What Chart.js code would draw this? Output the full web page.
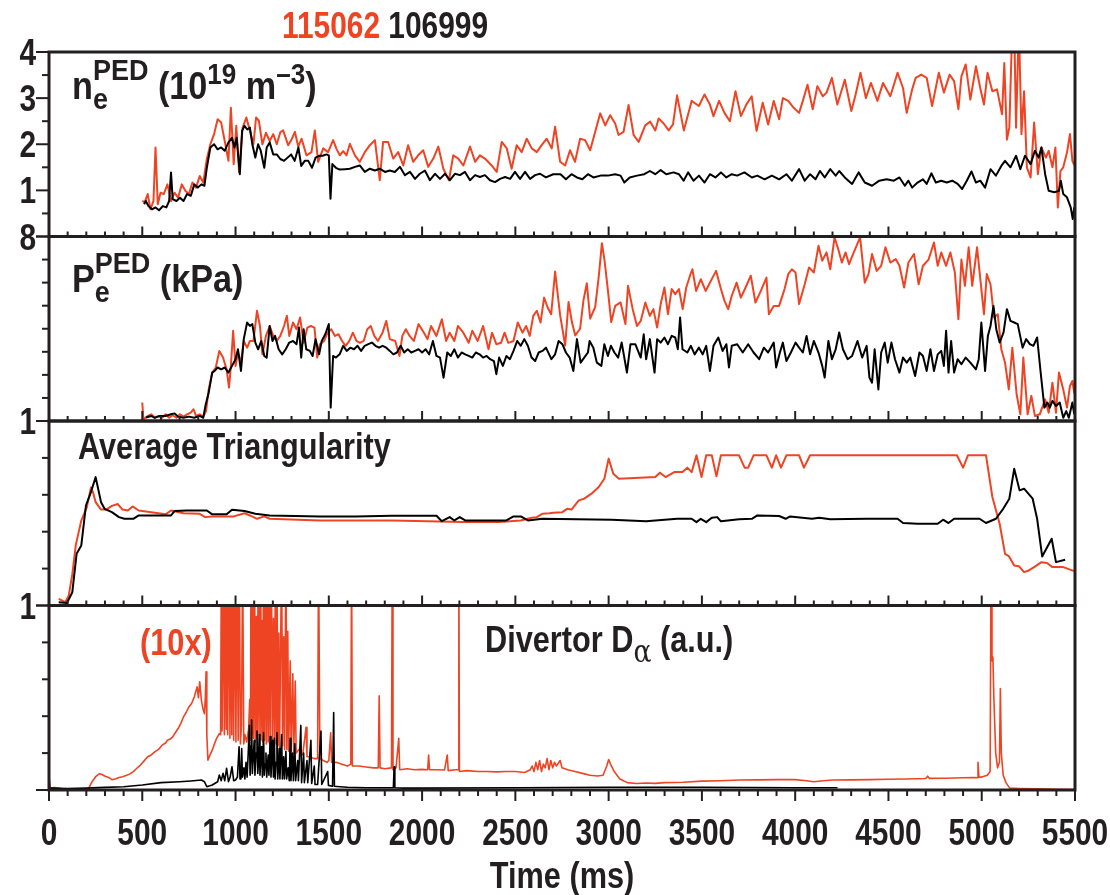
<!DOCTYPE html>
<html>
<head>
<meta charset="utf-8">
<title>Pedestal 115062 / 106999</title>
<script src="https://cdn.jsdelivr.net/npm/chart.js@4.4.1/dist/chart.umd.min.js"></script>
<style>
    html, body { margin: 0; padding: 0; background: #fff; }
    #marco { width: 1110px; height: 895px; }
</style>
</head>
<body>
<div id="marco"><canvas id="grafico" width="1110" height="895"></canvas></div>
<script>
/* ========================================
   Four stacked panels, shared time axis
   ======================================== */

// ---- n_e^PED (10^19 m^-3) ----
const neRedTime = [
    500, 513, 529, 544, 560, 571, 583, 598, 615, 635,
    654, 673, 692, 712, 731, 750, 769, 788, 808, 827,
    846, 865, 885, 904, 923, 942, 962, 975, 990, 1004,
    1019, 1038, 1058, 1077, 1096, 1110, 1125, 1144, 1163, 1183,
    1202, 1221, 1240, 1255, 1282, 1300, 1318, 1336, 1354, 1380,
    1407, 1425, 1443, 1470, 1496, 1523, 1541, 1559, 1577, 1595,
    1613, 1640, 1666, 1693, 1720, 1747, 1773, 1791, 1818, 1845,
    1872, 1899, 1925, 1952, 1979, 2006, 2033, 2060, 2087, 2114,
    2144, 2167, 2194, 2221, 2257, 2284, 2310, 2337, 2373, 2400,
    2427, 2454, 2480, 2507, 2534, 2561, 2588, 2615, 2641, 2668,
    2695, 2713, 2740, 2767, 2793, 2820, 2847, 2874, 2901, 2928,
    2955, 2982, 3008, 3035, 3053, 3080, 3107, 3134, 3161, 3196,
    3223, 3250, 3268, 3295, 3322, 3345, 3367, 3403, 3445, 3484,
    3514, 3543, 3562, 3592, 3621, 3650, 3680, 3709, 3738, 3767,
    3793, 3826, 3855, 3885, 3914, 3934, 3963, 3992, 4021, 4041,
    4066, 4094, 4119, 4148, 4168, 4197, 4226, 4266, 4301, 4324,
    4350, 4379, 4406, 4441, 4471, 4510, 4549, 4578, 4598, 4627,
    4646, 4676, 4705, 4734, 4770, 4797, 4828, 4852, 4875, 4891,
    4914, 4939, 4969, 4992, 5012, 5031, 5057, 5082, 5109, 5121,
    5135, 5148, 5164, 5174, 5184, 5199, 5213, 5227, 5242, 5262,
    5281, 5301, 5320, 5344, 5359, 5379, 5395, 5408, 5422, 5437,
    5457, 5473, 5486, 5496
];
const neRedValue = [
    0.77, 0.74, 0.92, 0.59, 0.77, 1.93, 0.70, 0.95, 0.92, 1.13,
    0.77, 0.95, 0.84, 1.13, 0.99, 0.92, 1.17, 1.06, 1.31, 1.17,
    1.68, 2.00, 2.22, 2.54, 2.47, 2.07, 1.64, 2.79, 1.57, 2.40,
    1.39, 2.36, 2.58, 2.29, 2.00, 2.58, 2.51, 2.00, 2.25, 2.07,
    2.22, 2.00, 2.26, 2.30, 1.98, 2.10, 2.27, 1.95, 2.12, 1.76,
    1.83, 2.30, 1.62, 1.91, 1.83, 2.09, 1.90, 1.76, 1.85, 1.76,
    2.01, 1.76, 1.62, 1.83, 1.98, 2.09, 1.22, 2.05, 2.05, 1.69,
    1.83, 1.54, 1.98, 1.62, 1.76, 1.87, 1.51, 1.69, 1.95, 1.47,
    1.22, 1.76, 1.69, 1.54, 1.95, 1.62, 1.76, 1.69, 1.54, 1.40,
    2.05, 1.91, 1.47, 1.98, 1.83, 2.12, 1.91, 1.83, 1.98, 2.12,
    1.91, 2.38, 1.62, 1.54, 1.87, 1.62, 2.12, 2.09, 1.87, 2.27,
    2.67, 2.41, 2.63, 2.45, 2.20, 2.27, 2.85, 2.20, 2.05, 2.41,
    2.49, 2.30, 2.56, 2.45, 2.30, 2.43, 3.06, 2.30, 2.94, 2.83,
    3.08, 2.86, 2.61, 2.94, 2.68, 2.50, 3.15, 2.61, 2.86, 3.04,
    2.29, 2.90, 2.43, 2.94, 2.54, 3.00, 2.94, 2.79, 2.68, 2.94,
    3.29, 2.76, 3.26, 3.04, 3.12, 3.44, 2.86, 3.40, 2.72, 3.08,
    3.55, 3.00, 3.33, 2.94, 3.33, 3.04, 3.55, 3.22, 2.68, 3.19,
    3.44, 3.51, 3.44, 2.83, 3.55, 3.12, 3.51, 3.37, 2.76, 3.47,
    3.73, 2.97, 3.69, 3.22, 2.86, 3.55, 3.15, 3.19, 2.65, 3.76,
    2.10, 2.36, 4.60, 4.60, 2.36, 4.60, 2.22, 3.15, 1.50, 1.28,
    2.47, 1.35, 1.93, 1.71, 1.86, 1.50, 1.93, 0.63, 1.42, 1.50,
    1.82, 2.22, 1.64, 1.55
];
const neBlackTime = [
    510, 519, 533, 552, 571, 590, 610, 629, 644, 654,
    663, 683, 702, 721, 740, 760, 779, 798, 817, 833,
    846, 865, 885, 904, 923, 942, 962, 981, 994, 1006,
    1023, 1035, 1048, 1063, 1077, 1090, 1106, 1121, 1135, 1154,
    1167, 1183, 1202, 1221, 1240, 1260, 1279, 1298, 1317, 1337,
    1352, 1371, 1390, 1410, 1429, 1448, 1467, 1487, 1500, 1509,
    1519, 1538, 1558, 1587, 1613, 1640, 1666, 1693, 1720, 1747,
    1773, 1801, 1827, 1854, 1881, 1908, 1935, 1962, 1988, 2015,
    2042, 2069, 2096, 2123, 2149, 2176, 2203, 2230, 2257, 2284,
    2310, 2337, 2364, 2391, 2418, 2445, 2472, 2498, 2525, 2552,
    2579, 2606, 2632, 2664, 2703, 2742, 2771, 2801, 2830, 2859,
    2889, 2918, 2957, 2996, 3035, 3064, 3084, 3113, 3152, 3191,
    3221, 3250, 3279, 3309, 3348, 3377, 3402, 3426, 3455, 3484,
    3514, 3543, 3572, 3602, 3631, 3660, 3689, 3728, 3768, 3797,
    3836, 3875, 3914, 3953, 3982, 4021, 4051, 4080, 4109, 4133,
    4158, 4188, 4217, 4236, 4266, 4305, 4340, 4373, 4412, 4451,
    4490, 4529, 4559, 4588, 4607, 4627, 4656, 4685, 4705, 4730,
    4754, 4783, 4812, 4842, 4871, 4895, 4920, 4945, 4969, 4992,
    5018, 5047, 5076, 5105, 5125, 5154, 5184, 5207, 5232, 5262,
    5285, 5305, 5320, 5340, 5359, 5389, 5414, 5424, 5437, 5457,
    5477, 5488, 5496
];
const neBlackValue = [
    0.70, 0.77, 0.66, 0.59, 0.63, 0.57, 0.66, 0.63, 0.77, 1.39,
    0.81, 0.77, 0.84, 0.77, 0.92, 0.88, 1.13, 1.06, 1.13, 1.10,
    1.49, 1.93, 2.00, 1.89, 1.93, 1.86, 2.04, 2.14, 1.93, 2.14,
    1.35, 2.29, 2.40, 2.32, 2.36, 2.00, 1.71, 2.00, 1.86, 1.49,
    1.93, 2.04, 1.78, 1.78, 1.68, 1.64, 1.71, 1.78, 1.64, 1.93,
    1.53, 1.64, 1.64, 1.49, 1.71, 1.75, 1.75, 1.78, 1.76, 0.82,
    1.57, 1.49, 1.45, 1.46, 1.47, 1.51, 1.54, 1.40, 1.47, 1.43,
    1.47, 1.40, 1.43, 1.40, 1.51, 1.33, 1.40, 1.25, 1.36, 1.43,
    1.22, 1.36, 1.25, 1.36, 1.22, 1.36, 1.33, 1.40, 1.22, 1.33,
    1.29, 1.33, 1.22, 1.18, 1.25, 1.29, 1.25, 1.40, 1.25, 1.40,
    1.25, 1.33, 1.36, 1.28, 1.35, 1.35, 1.24, 1.35, 1.28, 1.24,
    1.35, 1.28, 1.32, 1.32, 1.35, 1.32, 1.17, 1.28, 1.32, 1.35,
    1.42, 1.35, 1.44, 1.35, 1.39, 1.35, 1.21, 1.39, 1.21, 1.32,
    1.17, 1.35, 1.28, 1.39, 1.28, 1.35, 1.32, 1.39, 1.28, 1.32,
    1.24, 1.32, 1.24, 1.35, 1.21, 1.46, 1.21, 1.35, 1.24, 1.42,
    1.28, 1.46, 1.32, 1.42, 1.28, 1.14, 1.39, 1.17, 1.10, 1.21,
    1.24, 1.21, 1.28, 1.10, 1.21, 1.06, 1.17, 1.24, 1.14, 1.37,
    1.17, 1.21, 1.17, 1.21, 1.14, 1.03, 1.21, 1.41, 1.17, 1.21,
    1.06, 1.46, 1.32, 1.53, 1.64, 1.50, 1.75, 1.46, 1.75, 1.57,
    1.86, 1.71, 1.93, 1.35, 0.99, 0.96, 0.99, 1.21, 0.92, 0.85,
    0.63, 0.38, 0.63
];

// ---- P_e^PED (kPa) ----
const peRedTime = [
    500, 506, 529, 548, 567, 587, 606, 625, 644, 663,
    683, 702, 721, 740, 760, 775, 788, 808, 827, 842,
    856, 875, 894, 913, 933, 952, 965, 975, 987, 1000,
    1013, 1029, 1044, 1062, 1077, 1096, 1115, 1131, 1144, 1163,
    1183, 1202, 1221, 1240, 1260, 1275, 1288, 1308, 1327, 1346,
    1365, 1385, 1404, 1423, 1438, 1452, 1475, 1494, 1513, 1533,
    1552, 1571, 1590, 1610, 1629, 1648, 1667, 1687, 1706, 1725,
    1744, 1763, 1788, 1808, 1827, 1856, 1879, 1894, 1913, 1933,
    1956, 1981, 2010, 2029, 2048, 2077, 2106, 2129, 2148, 2173,
    2192, 2221, 2250, 2269, 2298, 2327, 2356, 2375, 2398, 2423,
    2442, 2462, 2490, 2513, 2538, 2558, 2577, 2596, 2615, 2635,
    2654, 2673, 2692, 2713, 2740, 2767, 2785, 2803, 2821, 2847,
    2865, 2883, 2901, 2928, 2946, 2964, 2979, 2997, 3014, 3035,
    3064, 3090, 3104, 3129, 3152, 3172, 3197, 3221, 3240, 3260,
    3279, 3299, 3318, 3338, 3357, 3377, 3397, 3416, 3436, 3449,
    3469, 3494, 3520, 3543, 3576, 3602, 3621, 3641, 3660, 3686,
    3709, 3734, 3762, 3787, 3816, 3846, 3859, 3885, 3914, 3943,
    3963, 3982, 4002, 4021, 4051, 4074, 4100, 4125, 4145, 4168,
    4188, 4211, 4231, 4250, 4270, 4289, 4314, 4348, 4373, 4393,
    4412, 4437, 4461, 4484, 4510, 4539, 4559, 4584, 4607, 4637,
    4662, 4685, 4715, 4744, 4764, 4783, 4809, 4832, 4856, 4875,
    4891, 4910, 4930, 4949, 4975, 4998, 5012, 5027, 5047, 5066,
    5086, 5105, 5125, 5145, 5164, 5187, 5207, 5223, 5246, 5266,
    5285, 5311, 5340, 5359, 5379, 5398, 5414, 5437, 5457, 5473,
    5486, 5496
];
const peRedValue = [
    0.80, 0.07, 0.22, 0.29, 0.14, 0.22, 0.14, 0.29, 0.14, 0.25,
    0.14, 0.29, 0.19, 0.29, 0.36, 0.51, 0.22, 0.29, 0.19, 0.43,
    1.37, 2.10, 2.32, 3.04, 2.75, 2.24, 1.45, 2.39, 3.91, 2.39,
    2.97, 2.53, 3.47, 3.18, 3.47, 3.47, 4.78, 4.12, 2.89, 3.69,
    4.12, 3.69, 3.47, 3.69, 4.12, 4.56, 3.69, 4.27, 3.98, 4.49,
    3.39, 4.05, 4.12, 4.05, 2.75, 3.33, 3.47, 3.83, 3.98, 3.69,
    3.76, 3.47, 3.26, 3.47, 3.83, 3.47, 3.39, 3.47, 3.98, 4.12,
    3.69, 3.47, 3.83, 4.34, 3.55, 3.47, 2.82, 3.69, 3.98, 3.69,
    3.47, 4.20, 3.83, 3.55, 4.12, 3.69, 4.41, 3.47, 3.83, 3.47,
    4.12, 3.83, 3.39, 3.91, 3.47, 4.12, 3.11, 3.83, 3.33, 3.39,
    3.83, 3.39, 3.47, 4.27, 3.83, 4.12, 3.69, 4.56, 4.78, 4.27,
    5.35, 4.92, 4.63, 6.48, 4.59, 3.27, 5.16, 4.29, 3.71, 4.00,
    5.23, 5.97, 4.44, 4.95, 6.18, 7.71, 6.90, 5.60, 4.29, 4.99,
    5.14, 4.20, 5.86, 4.85, 4.12, 4.34, 5.14, 4.56, 4.85, 4.05,
    5.07, 5.79, 4.63, 5.72, 5.50, 5.72, 4.85, 5.79, 6.30, 6.58,
    5.64, 6.15, 5.64, 6.00, 6.51, 5.72, 5.21, 4.85, 5.43, 6.00,
    5.35, 5.79, 6.30, 5.14, 5.64, 6.22, 4.63, 4.99, 4.99, 5.72,
    6.37, 6.58, 6.44, 5.07, 5.93, 6.66, 6.44, 7.60, 6.95, 7.31,
    6.58, 7.96, 7.45, 6.87, 7.31, 6.80, 7.31, 7.96, 6.00, 6.37,
    7.24, 6.51, 6.73, 7.53, 6.87, 7.02, 6.73, 5.79, 6.87, 7.24,
    5.93, 6.73, 7.00, 7.74, 6.73, 7.31, 6.73, 7.31, 6.44, 4.41,
    7.00, 5.86, 7.53, 5.86, 7.53, 5.72, 4.63, 6.37, 5.93, 4.49,
    4.63, 3.11, 2.53, 1.37, 3.18, 1.16, 0.29, 2.75, 0.29, 1.09,
    0.22, 0.29, 0.94, 0.36, 1.66, 0.36, 2.10, 1.37, 0.58, 1.52,
    1.74, 1.20
];
const peBlackTime = [
    520, 548, 567, 596, 625, 654, 673, 692, 721, 750,
    779, 808, 827, 840, 856, 875, 888, 904, 923, 942,
    962, 981, 1000, 1013, 1029, 1044, 1062, 1077, 1090, 1106,
    1121, 1138, 1154, 1167, 1183, 1198, 1212, 1231, 1250, 1269,
    1288, 1308, 1327, 1340, 1352, 1365, 1379, 1398, 1413, 1429,
    1448, 1462, 1481, 1500, 1510, 1523, 1538, 1558, 1577, 1596,
    1615, 1635, 1654, 1673, 1692, 1712, 1731, 1750, 1769, 1788,
    1808, 1827, 1846, 1865, 1885, 1904, 1923, 1942, 1962, 1981,
    2000, 2019, 2038, 2058, 2077, 2096, 2115, 2135, 2154, 2173,
    2192, 2212, 2231, 2250, 2269, 2288, 2308, 2327, 2346, 2365,
    2385, 2398, 2413, 2433, 2452, 2471, 2490, 2510, 2529, 2548,
    2567, 2587, 2606, 2625, 2645, 2664, 2693, 2713, 2732, 2752,
    2771, 2791, 2811, 2830, 2850, 2869, 2889, 2898, 2918, 2937,
    2961, 2977, 2996, 3012, 3031, 3051, 3070, 3098, 3117, 3143,
    3172, 3188, 3201, 3221, 3246, 3260, 3279, 3299, 3318, 3338,
    3357, 3371, 3383, 3396, 3422, 3441, 3461, 3484, 3504, 3523,
    3543, 3562, 3588, 3611, 3631, 3645, 3660, 3689, 3719, 3748,
    3777, 3807, 3832, 3855, 3885, 3898, 3918, 3934, 3953, 3977,
    4002, 4021, 4041, 4061, 4080, 4100, 4125, 4145, 4158, 4178,
    4197, 4217, 4236, 4256, 4281, 4305, 4334, 4359, 4383, 4398,
    4412, 4426, 4446, 4461, 4480, 4496, 4516, 4535, 4559, 4578,
    4598, 4617, 4643, 4666, 4685, 4705, 4725, 4744, 4764, 4783,
    4797, 4809, 4822, 4836, 4852, 4871, 4891, 4914, 4939, 4969,
    4984, 4998, 5018, 5033, 5047, 5063, 5078, 5096, 5117, 5135,
    5154, 5174, 5193, 5219, 5238, 5258, 5277, 5297, 5316, 5336,
    5352, 5365, 5379, 5398, 5418, 5437, 5453, 5467, 5486, 5496
];
const peBlackValue = [
    0.15, 0.22, 0.14, 0.22, 0.22, 0.29, 0.33, 0.19, 0.14, 0.19,
    0.14, 0.22, 0.14, 0.72, 1.23, 2.10, 2.17, 2.32, 2.24, 2.32,
    2.10, 2.39, 2.68, 3.11, 2.17, 3.55, 4.27, 4.12, 4.20, 3.40,
    3.11, 3.47, 2.82, 2.75, 4.12, 3.47, 3.69, 3.11, 2.89, 3.11,
    3.40, 3.47, 3.33, 4.05, 2.75, 3.98, 3.11, 3.04, 2.82, 3.55,
    2.89, 3.47, 3.76, 4.20, 0.58, 2.82, 2.75, 2.89, 3.26, 3.04,
    3.18, 3.11, 3.26, 3.04, 3.26, 3.33, 3.40, 3.26, 3.18, 3.26,
    3.18, 3.04, 2.89, 2.97, 3.26, 2.97, 3.11, 2.97, 3.04, 3.11,
    2.97, 3.11, 2.89, 3.47, 2.82, 2.75, 1.88, 2.97, 2.82, 3.11,
    2.75, 2.97, 2.89, 2.82, 2.75, 2.97, 2.89, 2.75, 2.82, 2.68,
    2.60, 2.03, 2.75, 2.39, 2.82, 2.68, 3.04, 3.47, 3.26, 3.55,
    3.26, 2.75, 2.60, 2.97, 3.04, 3.18, 2.68, 2.89, 3.47, 3.33,
    2.97, 2.75, 2.17, 3.55, 2.53, 2.75, 2.97, 3.47, 3.18, 2.53,
    2.39, 3.33, 2.82, 3.26, 2.97, 2.75, 3.40, 2.10, 3.33, 3.33,
    2.75, 3.76, 2.68, 3.55, 2.10, 3.55, 3.40, 3.62, 3.33, 3.69,
    3.62, 3.11, 4.49, 3.11, 2.97, 3.26, 2.89, 3.18, 2.89, 3.26,
    2.17, 3.26, 3.62, 3.04, 3.33, 2.32, 3.26, 3.33, 2.97, 3.33,
    2.97, 2.68, 3.18, 2.97, 3.40, 2.32, 2.97, 3.40, 2.60, 2.97,
    3.40, 3.18, 2.97, 3.69, 2.89, 3.47, 2.97, 2.39, 1.88, 3.47,
    2.68, 3.11, 3.84, 3.11, 2.68, 2.82, 3.47, 2.75, 3.26, 1.88,
    1.66, 3.11, 1.37, 2.97, 3.40, 2.53, 3.40, 2.68, 2.10, 2.75,
    2.53, 2.75, 1.95, 2.97, 2.82, 2.17, 3.11, 2.17, 2.89, 3.04,
    2.39, 3.91, 2.10, 3.47, 2.10, 2.68, 2.46, 2.75, 2.53, 2.24,
    2.68, 4.27, 2.17, 3.69, 4.12, 4.99, 3.98, 3.40, 3.84, 4.85,
    4.34, 4.27, 4.20, 3.18, 3.55, 3.33, 3.26, 3.62, 2.10, 0.58,
    0.80, 0.58, 0.87, 0.65, 0.80, 0.14, 0.43, 0.14, 0.80, 0.30
];

// ---- Average triangularity ----
const triRedTime = [
    52, 87, 106, 125, 144, 173, 202, 225, 237, 250,
    279, 308, 337, 369, 394, 423, 448, 481, 548, 625,
    654, 721, 808, 837, 875, 990, 1048, 1077, 1115, 1154,
    1183, 1260, 1452, 1644, 1837, 2029, 2221, 2413, 2529, 2587,
    2615, 2644, 2683, 2703, 2752, 2777, 2801, 2840, 2869, 2908,
    2947, 2977, 3000, 3025, 3055, 3250, 3275, 3305, 3352, 3396,
    3422, 3445, 3471, 3498, 3523, 3553, 3578, 3602, 3699, 3729,
    3748, 3777, 3846, 3875, 3898, 3924, 3953, 4021, 4047, 4080,
    4867, 4900, 4926, 5023, 5057, 5096, 5125, 5145, 5174, 5199,
    5227, 5252, 5281, 5320, 5350, 5379, 5437, 5496
];
const triRedValue = [
    0.036, 0.018, 0.054, 0.17, 0.33, 0.46, 0.53, 0.64, 0.61, 0.56,
    0.52, 0.52, 0.54, 0.55, 0.52, 0.515, 0.537, 0.515, 0.506, 0.494,
    0.515, 0.50, 0.497, 0.479, 0.483, 0.483, 0.50, 0.488, 0.47, 0.483,
    0.47, 0.467, 0.461, 0.461, 0.461, 0.457, 0.452, 0.452, 0.461, 0.476,
    0.479, 0.497, 0.50, 0.503, 0.506, 0.524, 0.52, 0.57, 0.579, 0.606,
    0.642, 0.687, 0.796, 0.714, 0.687, 0.696, 0.72, 0.696, 0.723, 0.723,
    0.747, 0.723, 0.814, 0.696, 0.814, 0.814, 0.70, 0.814, 0.814, 0.747,
    0.747, 0.814, 0.814, 0.747, 0.814, 0.747, 0.814, 0.814, 0.747, 0.814,
    0.814, 0.747, 0.814, 0.814, 0.588, 0.443, 0.28, 0.268, 0.217, 0.213,
    0.181, 0.19, 0.208, 0.235, 0.23, 0.208, 0.208, 0.186
];
const triBlackTime = [
    52, 96, 125, 148, 173, 198, 225, 250, 279, 298,
    337, 375, 404, 452, 481, 654, 673, 740, 846, 875,
    952, 981, 1048, 1106, 1183, 1452, 1644, 1837, 2077, 2106,
    2148, 2173, 2202, 2231, 2337, 2452, 2490, 2529, 2567, 2644,
    3016, 3201, 3367, 3445, 3471, 3494, 3523, 3553, 3582, 3602,
    3699, 3768, 3797, 3914, 3949, 3973, 4090, 4129, 4188, 4383,
    4549, 4578, 4656, 4764, 4793, 4822, 4852, 4988, 5023, 5076,
    5115, 5148, 5174, 5203, 5227, 5273, 5297, 5324, 5375, 5398,
    5447
];
const triBlackValue = [
    0.018, 0.013, 0.072, 0.28, 0.325, 0.542, 0.615, 0.696, 0.56, 0.524,
    0.506, 0.479, 0.47, 0.47, 0.488, 0.488, 0.512, 0.515, 0.515, 0.494,
    0.494, 0.519, 0.512, 0.497, 0.488, 0.483, 0.483, 0.486, 0.486, 0.457,
    0.479, 0.461, 0.479, 0.461, 0.461, 0.461, 0.483, 0.483, 0.461, 0.47,
    0.465, 0.457, 0.47, 0.47, 0.452, 0.47, 0.452, 0.476, 0.479, 0.456,
    0.467, 0.47, 0.488, 0.485, 0.47, 0.483, 0.47, 0.476, 0.467, 0.47,
    0.47, 0.447, 0.443, 0.443, 0.465, 0.447, 0.47, 0.47, 0.447, 0.47,
    0.524, 0.579, 0.741, 0.624, 0.633, 0.579, 0.47, 0.266, 0.362, 0.235,
    0.248
];

// ---- Divertor D-alpha (a.u.), red trace is x10 ----
const daRedTime = [
    0, 8, 29, 67, 120, 163, 212, 231, 250, 269,
    285, 298, 320, 337, 356, 375, 395, 413, 432, 452,
    471, 490, 510, 529, 548, 567, 587, 606, 625, 635,
    650, 663, 677, 692, 706, 721, 735, 750, 765, 779,
    794, 801, 808, 817, 825, 833, 838, 842, 846, 852,
    863, 875, 887, 898, 913, 920, 924, 928, 936, 940,
    946, 950, 954, 958, 966, 970, 975, 980, 984, 990,
    996, 1002, 1008, 1014, 1020, 1026, 1032, 1038, 1044, 1050,
    1060, 1070, 1076, 1080, 1083, 1087, 1092, 1096, 1102, 1106,
    1112, 1116, 1122, 1126, 1132, 1136, 1140, 1146, 1150, 1155,
    1160, 1165, 1170, 1175, 1180, 1185, 1192, 1197, 1203, 1208,
    1214, 1218, 1222, 1227, 1232, 1236, 1247, 1252, 1258, 1263,
    1270, 1275, 1280, 1285, 1293, 1298, 1307, 1312, 1320, 1325,
    1340, 1360, 1378, 1383, 1400, 1420, 1440, 1445, 1452, 1470,
    1490, 1500, 1510, 1515, 1540, 1570, 1600, 1618, 1622, 1626,
    1660, 1700, 1740, 1765, 1770, 1775, 1800, 1836, 1840, 1844,
    1860, 1875, 1880, 1920, 1960, 2000, 2030, 2035, 2040, 2080,
    2120, 2135, 2140, 2180, 2194, 2197, 2200, 2240, 2300, 2350,
    2400, 2450, 2500, 2550, 2580, 2590, 2600, 2610, 2620, 2630,
    2640, 2650, 2660, 2670, 2680, 2690, 2700, 2710, 2720, 2740,
    2750, 2780, 2820, 2860, 2900, 2940, 2970, 2990, 3000, 3010,
    3030, 3060, 3100, 3150, 3200, 3250, 3300, 3400, 3500, 3600,
    3700, 3800, 3900, 4000, 4060, 4100, 4150, 4200, 4300, 4400,
    4500, 4600, 4700, 4710, 4720, 4800, 4900, 4960, 4975, 4980,
    4985, 5000, 5030, 5045, 5050, 5055, 5060, 5065, 5070, 5075,
    5085, 5095, 5100, 5105, 5115, 5130, 5150, 5200, 5300, 5400,
    5500
];
const daRedValue = [
    0.07, 0.01, 0.014, 0.008, 0.006, 0.004, 0.008, 0.045, 0.072, 0.088,
    0.084, 0.076, 0.068, 0.056, 0.06, 0.068, 0.072, 0.078, 0.086, 0.10,
    0.118, 0.135, 0.158, 0.18, 0.19, 0.207, 0.22, 0.243, 0.255, 0.27,
    0.276, 0.288, 0.31, 0.333, 0.36, 0.396, 0.42, 0.45, 0.47, 0.505,
    0.559, 0.50, 0.586, 0.486, 0.44, 0.414, 0.50, 0.64, 0.30, 0.162,
    0.19, 0.216, 0.25, 0.279, 0.306, 0.30, 1.3, 0.32, 1.3, 0.30,
    1.3, 0.33, 1.3, 0.30, 1.3, 0.28, 1.3, 0.30, 1.3, 0.27,
    1.3, 0.26, 1.3, 0.27, 1.3, 0.25, 0.35, 1.3, 0.25, 0.30,
    0.26, 0.33, 0.49, 0.27, 1.3, 0.30, 1.3, 0.28, 1.3, 0.26,
    0.94, 0.28, 1.3, 0.30, 1.3, 0.27, 0.92, 0.26, 1.3, 0.27,
    1.3, 0.25, 1.3, 0.26, 1.3, 0.25, 1.3, 0.26, 0.93, 0.24,
    1.3, 0.25, 1.3, 0.24, 0.85, 0.23, 1.3, 0.24, 0.83, 0.22,
    1.3, 0.22, 0.86, 0.21, 0.70, 0.21, 0.63, 0.20, 0.59, 0.20,
    0.22, 0.19, 0.34, 0.18, 0.18, 0.17, 0.17, 1.3, 0.17, 0.16,
    0.15, 0.16, 0.31, 0.15, 0.15, 0.14, 0.13, 0.14, 1.3, 0.13,
    0.13, 0.125, 0.12, 0.12, 0.51, 0.12, 0.115, 0.12, 1.3, 0.11,
    0.12, 0.28, 0.11, 0.115, 0.11, 0.112, 0.11, 0.19, 0.11, 0.11,
    0.108, 0.19, 0.105, 0.11, 0.11, 1.3, 0.10, 0.105, 0.10, 0.10,
    0.098, 0.10, 0.10, 0.095, 0.11, 0.13, 0.10, 0.15, 0.11, 0.16,
    0.10, 0.14, 0.12, 0.17, 0.11, 0.16, 0.12, 0.15, 0.13, 0.16,
    0.12, 0.11, 0.10, 0.09, 0.08, 0.076, 0.08, 0.13, 0.165, 0.14,
    0.10, 0.06, 0.04, 0.035, 0.038, 0.036, 0.04, 0.042, 0.048, 0.05,
    0.054, 0.055, 0.056, 0.056, 0.05, 0.045, 0.05, 0.054, 0.055, 0.056,
    0.058, 0.06, 0.062, 0.075, 0.063, 0.064, 0.066, 0.068, 0.066, 0.15,
    0.07, 0.07, 0.08, 0.10, 1.3, 0.70, 0.72, 0.50, 0.35, 0.20,
    0.12, 0.15, 0.55, 0.20, 0.08, 0.04, 0.01, 0.008, 0.006, 0.004,
    0.003
];
const daBlackTime = [
    0, 100, 200, 300, 400, 500, 600, 700, 760, 817,
    833, 846, 875, 904, 913, 923, 933, 942, 952, 962,
    971, 981, 990, 1000, 1010, 1019, 1024, 1029, 1033, 1037,
    1045, 1050, 1056, 1062, 1068, 1074, 1078, 1083, 1086, 1090,
    1095, 1100, 1104, 1110, 1115, 1119, 1123, 1127, 1131, 1136,
    1140, 1144, 1150, 1154, 1158, 1163, 1167, 1175, 1179, 1186,
    1190, 1194, 1199, 1203, 1208, 1212, 1217, 1222, 1226, 1230,
    1234, 1238, 1247, 1251, 1258, 1262, 1270, 1274, 1282, 1288,
    1293, 1297, 1306, 1310, 1318, 1322, 1333, 1337, 1350, 1354,
    1365, 1369, 1383, 1387, 1404, 1408, 1422, 1426, 1440, 1458,
    1462, 1494, 1498, 1520, 1526, 1530, 1560, 1600, 1700, 1800,
    1846, 1850, 1854, 1900, 2000, 2500, 3000, 3500, 4000, 4227
];
const daBlackValue = [
    0.01, 0.008, 0.01, 0.014, 0.018, 0.027, 0.04, 0.045, 0.049, 0.054,
    0.045, 0.018, 0.027, 0.045, 0.081, 0.05, 0.09, 0.05, 0.117, 0.045,
    0.07, 0.126, 0.05, 0.054, 0.07, 0.234, 0.06, 0.072, 0.225, 0.07,
    0.12, 0.06, 0.15, 0.07, 0.20, 0.35, 0.08, 0.24, 0.38, 0.09,
    0.18, 0.27, 0.08, 0.20, 0.32, 0.09, 0.15, 0.30, 0.08, 0.18,
    0.235, 0.07, 0.31, 0.08, 0.14, 0.20, 0.07, 0.19, 0.08, 0.29,
    0.07, 0.16, 0.27, 0.07, 0.28, 0.06, 0.15, 0.31, 0.06, 0.12,
    0.225, 0.06, 0.30, 0.06, 0.18, 0.06, 0.21, 0.06, 0.12, 0.05,
    0.28, 0.05, 0.20, 0.05, 0.25, 0.05, 0.16, 0.05, 0.35, 0.04,
    0.20, 0.04, 0.16, 0.04, 0.27, 0.035, 0.13, 0.03, 0.03, 0.32,
    0.03, 0.10, 0.025, 0.02, 0.42, 0.02, 0.018, 0.015, 0.012, 0.012,
    0.012, 0.126, 0.012, 0.01, 0.01, 0.012, 0.015, 0.015, 0.012, 0.012
];

// ---- axes ----
const timeMin = 0, timeMax = 5500, timeStep = 100, timeLabelStep = 500;
const neRange = [0, 4], neStep = 0.5, neLabels = [1, 2, 3, 4];
const peRange = [0, 8], peStep = 1, peLabels = [8];
const triRange = [0, 1], triStep = 0.2, triLabels = [1];
const daRange = [0, 1], daStep = 0.2, daLabels = [1];

const RED = '#ef4423';
const INK = '#231f20';
const FONT = "'Liberation Sans', Arial, sans-serif";
const ANGOSTO = 0.83;   // condensed look: horizontal squeeze of the bold face
const PANELS = ['yNe', 'yPe', 'yTri', 'yDa'];

let grafico = null;

function puntos(tiempos, valores) {
    return tiempos.map((t, i) => ({ x: t, y: valores[i] }));
}

function serie(label, tiempos, valores, color, eje, ancho) {
    return {
        label: label,
        data: puntos(tiempos, valores),
        yAxisID: eje,
        borderColor: color,
        backgroundColor: color,
        borderWidth: ancho,
        borderJoinStyle: 'round',
        pointRadius: 0,
        tension: 0,
        fill: false,
        order: color === RED ? 2 : 1
    };
}

function casi(a, b) { return Math.abs(a - b) < 1e-6; }

function ejeY(range, step) {
    return {
        type: 'linear',
        position: 'left',
        stack: 'paneles',
        stackWeight: 1,
        min: range[0],
        max: range[1],
        grid: { display: false, drawTicks: false },
        border: { display: false },
        ticks: { display: false, stepSize: step, autoSkip: false },
        afterFit: s => { s.width = 49; }
    };
}

function fuente(p) {
    return `${p.peso || 'bold'} ${p.tam || 37}px ${p.familia || FONT}`;
}

// texto condensado con sub/superindices
function escribir(ctx, partes, x, y, alinear, escala) {
    const sx = escala || ANGOSTO;
    const anchos = partes.map(p => {
        ctx.font = fuente(p);
        return p.quieto ? 0 : ctx.measureText(p.t).width;
    });
    const total = anchos.reduce((a, b) => a + b, 0) * sx;
    let x0 = x;
    if (alinear === 'center') x0 = x - total / 2;
    else if (alinear === 'right') x0 = x - total;

    ctx.save();
    ctx.translate(x0, y);
    ctx.scale(sx, 1);
    ctx.textAlign = 'left';
    ctx.textBaseline = 'alphabetic';
    let cx = 0;
    partes.forEach((p, i) => {
        ctx.font = fuente(p);
        ctx.fillStyle = p.color || INK;
        ctx.fillText(p.t, cx, p.dy || 0);
        cx += anchos[i];
    });
    ctx.restore();
}

const panelPlugin = {
    id: 'paneles',
    beforeDatasetDraw(chart, args) {
        const { xScale, yScale } = args.meta;
        const ctx = chart.ctx;
        ctx.save();
        ctx.beginPath();
        ctx.rect(xScale.left, yScale.top, xScale.width, yScale.height);
        ctx.clip();
    },
    afterDatasetDraw(chart) {
        chart.ctx.restore();
    },
    afterDraw(chart) {
        const ctx = chart.ctx;
        const x = chart.scales.x;
        const etiquetas = { yNe: neLabels, yPe: peLabels, yTri: triLabels, yDa: daLabels };
        ctx.save();
        ctx.strokeStyle = INK;
        ctx.lineCap = 'butt';

        PANELS.forEach((id, i) => {
            const y = chart.scales[id];
            const ultimo = i === PANELS.length - 1;

            // marcas del tiempo
            ctx.lineWidth = 2;
            x.ticks.forEach(t => {
                const px = x.getPixelForValue(t.value);
                const largo = t.value % timeLabelStep === 0 ? 10 : 5;
                ctx.beginPath();
                ctx.moveTo(px, y.bottom);
                ctx.lineTo(px, ultimo ? y.bottom + largo + 1 : y.bottom - largo);
                ctx.stroke();
            });

            // marcas y numeros del eje vertical
            y.ticks.forEach(t => {
                const py = y.getPixelForValue(t.value);
                const rotulo = etiquetas[id].some(l => casi(l, t.value));
                const mayor = rotulo || casi(t.value, y.min);
                ctx.beginPath();
                ctx.moveTo(x.left, py);
                ctx.lineTo(x.left - (mayor ? 13 : 7), py);
                ctx.stroke();
                if (rotulo) escribir(ctx, [{ t: String(t.value), tam: 36 }], x.left - 13, py + 13, 'right');
            });

            ctx.lineWidth = 3;
            ctx.strokeRect(x.left, y.top, x.width, y.height);
        });

        // numeros del tiempo y titulo del eje
        const abajo = chart.scales[PANELS[PANELS.length - 1]].bottom;
        x.ticks.forEach(t => {
            if (t.value % timeLabelStep !== 0) return;
            escribir(ctx, [{ t: String(t.value), tam: 36 }], x.getPixelForValue(t.value), abajo + 55, 'center');
        });
        escribir(ctx, [{ t: 'Time (ms)', tam: 37 }], (x.left + x.right) / 2, abajo + 98, 'center');

        // cabecera
        escribir(ctx, [
            { t: '115062', tam: 36, color: RED },
            { t: ' 106999', tam: 36 }
        ], 282, 38);

        escribir(ctx, [
            { t: 'n', tam: 38 },
            { t: 'e', tam: 30, dy: 10, quieto: true },
            { t: 'PED', tam: 30, dy: -19 },
            { t: ' (10', tam: 38 },
            { t: '19', tam: 29, dy: -15 },
            { t: ' m', tam: 38 },
            { t: '\u20133', tam: 29, dy: -15 },
            { t: ')', tam: 38 }
        ], 72, 99, 'left', 0.9);

        escribir(ctx, [
            { t: 'P', tam: 38 },
            { t: 'e', tam: 30, dy: 10, quieto: true },
            { t: 'PED', tam: 30, dy: -19 },
            { t: ' (kPa)', tam: 38 }
        ], 72, 292, 'left', 0.9);

        escribir(ctx, [{ t: 'Average Triangularity', tam: 37 }], 78, 459);

        escribir(ctx, [{ t: '(10x)', tam: 37, color: RED }], 140, 655);

        escribir(ctx, [
            { t: 'Divertor D', tam: 37 },
            { t: '\u03b1', tam: 32, peso: 'normal', familia: "'DejaVu Serif', serif", dy: 10 },
            { t: ' (a.u.)', tam: 37 }
        ], 485, 652);

        ctx.restore();
    }
};

function inicializarGrafico() {
    if (typeof Chart === 'undefined') {
        console.error('Chart.js no está cargado');
        return;
    }
    const ctx = document.getElementById('grafico');
    if (grafico) grafico.destroy();

    grafico = new Chart(ctx, {
        type: 'line',
        data: {
            datasets: [
                serie('ne 106999', neBlackTime, neBlackValue, '#000', 'yNe', 2),
                serie('ne 115062', neRedTime, neRedValue, RED, 'yNe', 2),
                serie('pe 106999', peBlackTime, peBlackValue, '#000', 'yPe', 2),
                serie('pe 115062', peRedTime, peRedValue, RED, 'yPe', 2),
                serie('tri 106999', triBlackTime, triBlackValue, '#000', 'yTri', 2),
                serie('tri 115062', triRedTime, triRedValue, RED, 'yTri', 2),
                serie('Da 106999', daBlackTime, daBlackValue, '#000', 'yDa', 1.6),
                serie('Da 115062 x10', daRedTime, daRedValue, RED, 'yDa', 1.6)
            ]
        },
        options: {
            responsive: false,
            animation: false,
            devicePixelRatio: 1,
            layout: { padding: { top: 52, right: 35, left: 0, bottom: 0 } },
            plugins: {
                legend: { display: false },
                tooltip: { enabled: false }
            },
            scales: {
                x: {
                    type: 'linear',
                    position: 'bottom',
                    min: timeMin,
                    max: timeMax,
                    grid: { display: false, drawTicks: false },
                    border: { display: false },
                    ticks: { display: false, stepSize: timeStep, autoSkip: false, maxRotation: 0 },
                    afterFit: s => {
                        s.height = 105;
                        s.paddingLeft = 0;
                        s.paddingRight = 0;
                    }
                },
                yDa: ejeY(daRange, daStep),
                yTri: ejeY(triRange, triStep),
                yPe: ejeY(peRange, peStep),
                yNe: ejeY(neRange, neStep)
            }
        },
        plugins: [panelPlugin]
    });
}

if (document.readyState === 'loading') {
    document.addEventListener('DOMContentLoaded', inicializarGrafico);
} else {
    inicializarGrafico();
}
</script>
</body>
</html>
